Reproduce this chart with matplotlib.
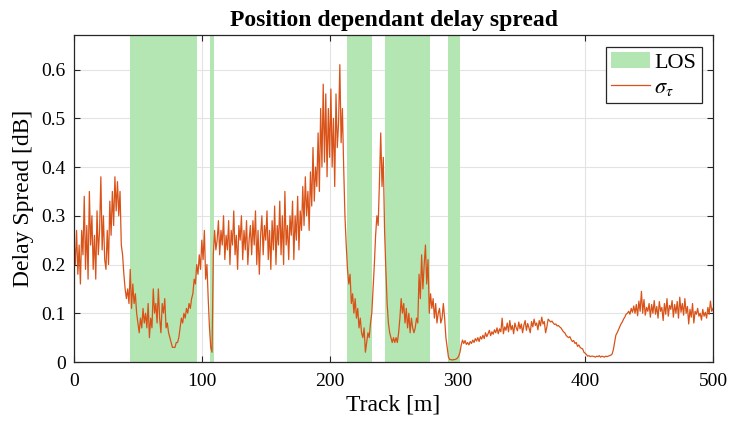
import matplotlib.pyplot as plt
import matplotlib.ticker as mticker
import numpy as np

plt.rcParams['font.family'] = ['Liberation Serif', 'DejaVu Serif']
plt.rcParams['mathtext.fontset'] = 'stix'

# LOS regions along the track [m]
los_start = [43.8, 106.4, 213.4, 243.0, 292.8]
los_end = [96.2, 109.2, 233.4, 278.2, 302.0]

# delay spread sampled every metre, 0..500 m
delay_spread = [
    0.25, 0.20, 0.27, 0.18, 0.24, 0.16, 0.27, 0.22, 0.34, 0.19,
    0.28, 0.17, 0.35, 0.24, 0.30, 0.19, 0.26, 0.17, 0.31, 0.22,
    0.27, 0.38, 0.23, 0.30, 0.21, 0.19, 0.27, 0.20, 0.33, 0.26,
    0.35, 0.28, 0.38, 0.31, 0.37, 0.30, 0.35, 0.24, 0.22, 0.18,
    0.15, 0.13, 0.15, 0.12, 0.19, 0.11, 0.16, 0.12, 0.14, 0.10,
    0.08, 0.06, 0.09, 0.07, 0.11, 0.08, 0.10, 0.07, 0.12, 0.05,
    0.09, 0.07, 0.15, 0.10, 0.12, 0.08, 0.15, 0.09, 0.06, 0.12,
    0.10, 0.13, 0.07, 0.08, 0.06, 0.05, 0.04, 0.03, 0.03, 0.03,
    0.04, 0.04, 0.05, 0.07, 0.09, 0.08, 0.10, 0.09, 0.11, 0.10,
    0.12, 0.11, 0.13, 0.14, 0.17, 0.16, 0.20, 0.18, 0.22, 0.19,
    0.25, 0.21, 0.27, 0.17, 0.20, 0.13, 0.07, 0.03, 0.02, 0.22,
    0.27, 0.23, 0.25, 0.29, 0.22, 0.27, 0.24, 0.30, 0.21, 0.26,
    0.23, 0.29, 0.20, 0.27, 0.24, 0.31, 0.22, 0.26, 0.19, 0.28,
    0.25, 0.30, 0.21, 0.27, 0.23, 0.29, 0.20, 0.25, 0.28, 0.22,
    0.29, 0.24, 0.31, 0.20, 0.27, 0.18, 0.26, 0.30, 0.22, 0.28,
    0.25, 0.31, 0.21, 0.27, 0.19, 0.29, 0.23, 0.32, 0.20, 0.28,
    0.24, 0.33, 0.22, 0.30, 0.20, 0.35, 0.24, 0.28, 0.21, 0.30,
    0.26, 0.33, 0.21, 0.30, 0.25, 0.34, 0.23, 0.31, 0.27, 0.36,
    0.28, 0.38, 0.30, 0.35, 0.27, 0.39, 0.32, 0.44, 0.33, 0.40,
    0.36, 0.47, 0.35, 0.52, 0.40, 0.57, 0.41, 0.55, 0.38, 0.52,
    0.42, 0.56, 0.40, 0.50, 0.36, 0.55, 0.44, 0.49, 0.61, 0.45,
    0.52, 0.40, 0.30, 0.24, 0.19, 0.16, 0.18, 0.12, 0.14, 0.10,
    0.13, 0.09, 0.11, 0.07, 0.09, 0.06, 0.05, 0.07, 0.02, 0.04,
    0.06, 0.05, 0.08, 0.10, 0.15, 0.20, 0.26, 0.30, 0.28, 0.37,
    0.47, 0.36, 0.42, 0.27, 0.19, 0.12, 0.08, 0.06, 0.05, 0.04,
    0.05, 0.04, 0.05, 0.04, 0.06, 0.09, 0.13, 0.10, 0.12, 0.08,
    0.11, 0.07, 0.10, 0.06, 0.09, 0.07, 0.06, 0.07, 0.09, 0.08,
    0.18, 0.13, 0.22, 0.15, 0.20, 0.24, 0.16, 0.21, 0.10, 0.14,
    0.11, 0.13, 0.09, 0.12, 0.08, 0.10, 0.11, 0.08, 0.09, 0.12,
    0.09, 0.05, 0.03, 0.01, 0.005, 0.005, 0.004, 0.005, 0.005, 0.006,
    0.008, 0.012, 0.02, 0.035, 0.045, 0.038, 0.044, 0.036, 0.040, 0.035,
    0.042, 0.038, 0.045, 0.040, 0.048, 0.043, 0.050, 0.042, 0.052, 0.047,
    0.055, 0.048, 0.060, 0.052, 0.058, 0.065, 0.054, 0.062, 0.057, 0.066,
    0.060, 0.070, 0.058, 0.068, 0.062, 0.090, 0.058, 0.072, 0.065, 0.080,
    0.062, 0.085, 0.066, 0.075, 0.058, 0.080, 0.070, 0.064, 0.082, 0.068,
    0.078, 0.060, 0.075, 0.085, 0.065, 0.079, 0.070, 0.060, 0.083, 0.072,
    0.088, 0.075, 0.080, 0.066, 0.085, 0.074, 0.092, 0.078, 0.083, 0.060,
    0.072, 0.088, 0.085, 0.082, 0.084, 0.080, 0.077, 0.078, 0.074, 0.075,
    0.072, 0.070, 0.066, 0.062, 0.060, 0.055, 0.052, 0.050, 0.052, 0.046,
    0.042, 0.044, 0.038, 0.040, 0.032, 0.035, 0.030, 0.028, 0.027, 0.020,
    0.018, 0.015, 0.012, 0.013, 0.011, 0.012, 0.012, 0.011, 0.010, 0.012,
    0.011, 0.013, 0.010, 0.012, 0.011, 0.010, 0.012, 0.011, 0.012, 0.013,
    0.014, 0.016, 0.025, 0.040, 0.055, 0.060, 0.066, 0.072, 0.078, 0.082,
    0.088, 0.092, 0.098, 0.100, 0.104, 0.098, 0.110, 0.102, 0.115, 0.100,
    0.118, 0.095, 0.125, 0.104, 0.145, 0.100, 0.128, 0.096, 0.112, 0.104,
    0.120, 0.092, 0.118, 0.100, 0.126, 0.098, 0.114, 0.090, 0.124, 0.104,
    0.112, 0.085, 0.120, 0.098, 0.130, 0.094, 0.116, 0.108, 0.126, 0.092,
    0.118, 0.100, 0.124, 0.090, 0.133, 0.102, 0.120, 0.096, 0.130, 0.100,
    0.114, 0.078, 0.108, 0.092, 0.120, 0.080, 0.104, 0.098, 0.110, 0.094,
    0.100, 0.086, 0.108, 0.094, 0.102, 0.090, 0.112, 0.098, 0.125, 0.104,
    0.110,
]
track = np.arange(len(delay_spread))

fig = plt.figure(figsize=(7.3, 4.28), dpi=100)
ax = fig.add_axes([0.1014, 0.1542, 0.8753, 0.763])

for i, (s, e) in enumerate(zip(los_start, los_end)):
    ax.axvspan(s, e, color='#b4e6b4', lw=0, zorder=1,
               label='LOS' if i == 0 else None)
ax.plot(track, delay_spread, color='#d95319', lw=0.9, zorder=2,
        label=r'$\sigma_\tau$')

ax.set_xlim(0, 500)
ax.set_ylim(0, 0.67)
ax.set_xticks([0, 100, 200, 300, 400, 500])
ax.set_yticks([0, 0.1, 0.2, 0.3, 0.4, 0.5, 0.6])
ax.yaxis.set_major_formatter(mticker.FormatStrFormatter('%g'))
ax.set_axisbelow(True)
ax.grid(True, color='#e3e3e3', lw=0.8)
ax.tick_params(direction='in', top=True, right=True, labelsize=14,
               color='#262626', length=4)
ax.tick_params(axis='x', pad=8)
ax.tick_params(axis='y', pad=6)
for sp in ax.spines.values():
    sp.set_color('#262626')
    sp.set_linewidth(0.9)

ax.set_xlabel('Track [m]', fontsize=17, labelpad=3)
ax.set_ylabel('Delay Spread [dB]', fontsize=17, labelpad=5)
ax.set_title('Position dependant delay spread', fontsize=17, fontweight='bold', pad=7)

leg = ax.legend(loc='upper right', fontsize=16, fancybox=False, framealpha=1,
                edgecolor='#262626', handlelength=1.75, borderpad=0.25,
                labelspacing=0.2, handletextpad=0.2, borderaxespad=0.5)
leg.get_frame().set_linewidth(0.9)

fig.savefig('out.png', dpi=100)
